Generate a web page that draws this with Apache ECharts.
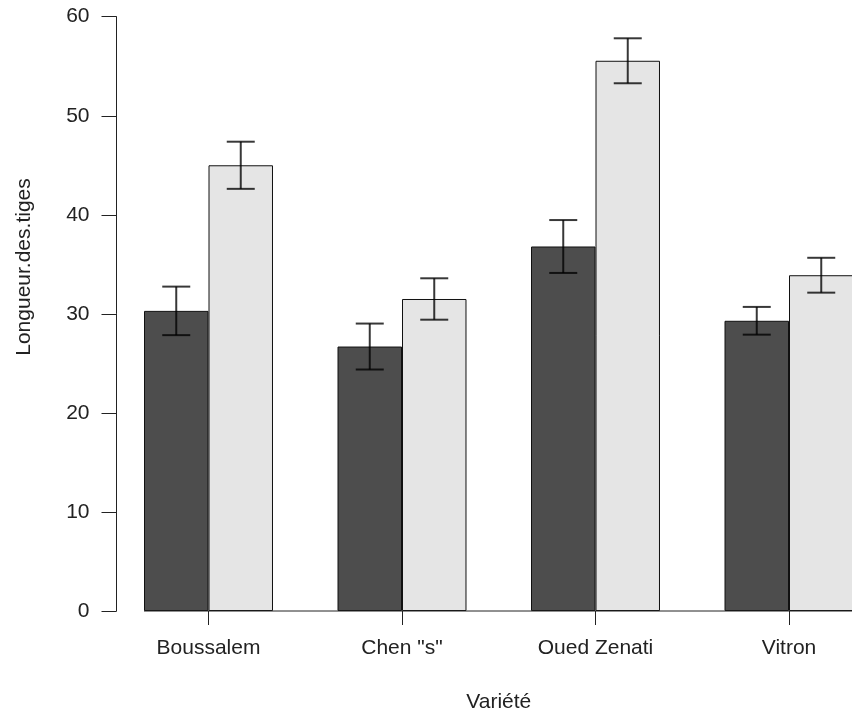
<!DOCTYPE html>
<html>
<head>
<meta charset="utf-8">
<script src="https://cdn.jsdelivr.net/npm/echarts@6/dist/echarts.min.js"></script>
<style>
  html, body { margin: 0; padding: 0; background: #fff; overflow: hidden; }
  /* the plot runs past the right edge of the window, so the canvas is wider than the view */
  #chart { width: 900px; height: 718px; }
</style>
</head>
<body>
<div id="chart"></div>
<script>
// Stem length by variety, two treatments, mean ± error
const categories = ['Boussalem', 'Chen "s"', 'Oued Zenati', 'Vitron'];
const meanDark = [30.3, 26.7, 36.8, 29.3];
const errDark = [2.45, 2.32, 2.67, 1.40];
const meanLight = [45.0, 31.5, 55.55, 33.9];
const errLight = [2.38, 2.09, 2.27, 1.76];
const yTicks = { min: 0, max: 60, interval: 10 };

const FONT = '"Liberation Sans", Arial, Helvetica, sans-serif';
const INK = '#222';

const errorData = [];
categories.forEach((c, i) => {
  errorData.push([i, meanDark[i] - errDark[i], meanDark[i] + errDark[i], 0]);
  errorData.push([i, meanLight[i] - errLight[i], meanLight[i] + errLight[i], 1]);
});

const chart = echarts.init(document.getElementById('chart'), null, { renderer: 'canvas' });

chart.setOption({
  animation: false,
  backgroundColor: '#fff',
  textStyle: { fontFamily: FONT },
  grid: { left: 111.75, top: 16.7, width: 774, height: 595.3, containLabel: false },
  xAxis: {
    type: 'category',
    data: categories,
    boundaryGap: true,
    axisLine: { show: false },
    axisTick: { show: true, alignWithLabel: true, length: 14, lineStyle: { color: INK, width: 1 } },
    axisLabel: { margin: 27, fontSize: 21, color: INK, fontFamily: FONT },
    splitLine: { show: false },
    name: 'Variété',
    nameLocation: 'middle',
    nameGap: 81,
    nameTextStyle: { fontSize: 21, color: INK, fontFamily: FONT }
  },
  yAxis: {
    type: 'value',
    min: yTicks.min,
    max: yTicks.max,
    interval: yTicks.interval,
    offset: -4.75,
    axisLine: { show: true, lineStyle: { color: INK, width: 1 } },
    axisTick: { show: true, length: 15, lineStyle: { color: INK, width: 1 } },
    axisLabel: { margin: 27, fontSize: 21, color: INK, fontFamily: FONT },
    splitLine: { show: false }
  },
  graphic: [{
    type: 'text',
    x: 24,
    y: 267,
    rotation: Math.PI / 2,
    style: {
      text: 'Longueur.des.tiges',
      fontSize: 21,
      fontFamily: FONT,
      fill: INK,
      align: 'center',
      verticalAlign: 'middle'
    }
  }],
  series: [
    {
      type: 'bar',
      data: meanDark,
      barWidth: '33.333%',
      barGap: '0%',
      itemStyle: { color: '#4d4d4d', borderColor: '#111', borderWidth: 1 },
      z: 2
    },
    {
      type: 'bar',
      data: meanLight,
      barWidth: '33.333%',
      barGap: '0%',
      itemStyle: { color: '#e5e5e5', borderColor: '#111', borderWidth: 1 },
      z: 2
    },
    {
      // baseline running from the first bar to the right edge
      type: 'custom',
      data: [[0]],
      clip: false,
      z: 3,
      renderItem: function (params, api) {
        const c = api.coord([0, 0]);
        const bw = api.size([1, 0])[0] / 3;
        return {
          type: 'line',
          shape: { x1: c[0] - bw, y1: c[1], x2: api.getWidth(), y2: c[1] },
          style: { stroke: INK, lineWidth: 1 }
        };
      }
    },
    {
      // error bars with caps
      type: 'custom',
      data: errorData,
      clip: false,
      z: 4,
      renderItem: function (params, api) {
        const cat = api.value(0);
        const lo = api.value(1);
        const hi = api.value(2);
        const side = api.value(3);
        const bw = api.size([1, 0])[0] / 3;
        const cx = api.coord([cat, 0])[0] + (side === 0 ? -bw / 2 : bw / 2);
        const yLo = api.coord([cat, lo])[1];
        const yHi = api.coord([cat, hi])[1];
        const half = 14;
        const st = { stroke: 'rgba(0,0,0,0.78)', lineWidth: 2 };
        return {
          type: 'group',
          children: [
            { type: 'line', shape: { x1: cx, y1: yLo, x2: cx, y2: yHi }, style: st },
            { type: 'line', shape: { x1: cx - half, y1: yHi, x2: cx + half, y2: yHi }, style: st },
            { type: 'line', shape: { x1: cx - half, y1: yLo, x2: cx + half, y2: yLo }, style: st }
          ]
        };
      }
    }
  ]
});
</script>
</body>
</html>
